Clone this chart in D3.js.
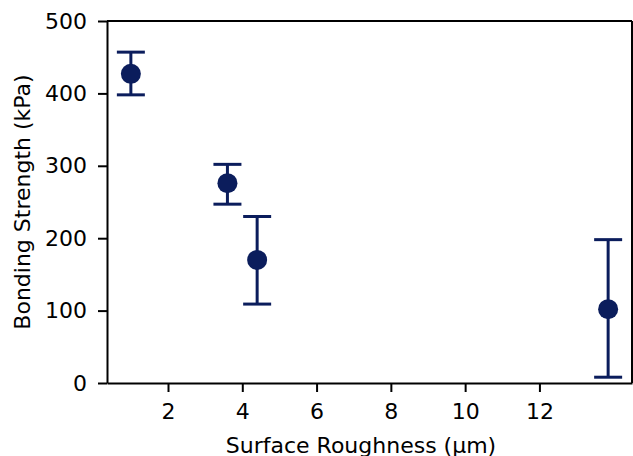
<!DOCTYPE html>
<html>
<head>
<meta charset="utf-8">
<script src="https://cdn.jsdelivr.net/npm/d3@7"></script>
<style>
  body { margin: 0; background: #fff; }
  text { font-family: "DejaVu Sans", sans-serif; }
</style>
</head>
<body>
<svg id="chart" width="633" height="456"></svg>
<script>
// data
const roughness = [1.0, 3.6, 4.4, 13.85];
const strength = [427, 276, 170, 102];
const errLow = [29, 29, 61, 94];
const errHigh = [30, 26, 60, 96];
const xTicks = [2, 4, 6, 8, 10, 12];
const yTicks = [0, 100, 200, 300, 400, 500];

const colour = '#0b1d5c';
const margin = { top: 21, right: 1, bottom: 73, left: 107 };
const width = 633, height = 456;
const fontSize = '22px';

const svg = d3.select('#chart');

// matplotlib style 5% padding on the x range
const pad = (d3.max(roughness) - d3.min(roughness)) * 0.05;
const x = d3.scaleLinear()
  .domain([d3.min(roughness) - pad, d3.max(roughness) + pad])
  .range([margin.left, width - margin.right]);
const y = d3.scaleLinear()
  .domain([0, 500])
  .range([height - margin.bottom, margin.top]);

// axes
const xAxis = svg.append('g')
  .attr('transform', `translate(0,${height - margin.bottom})`)
  .call(d3.axisBottom(x).tickValues(xTicks).tickSize(9).tickPadding(11).tickSizeOuter(0));
const yAxis = svg.append('g')
  .attr('transform', `translate(${margin.left},0)`)
  .call(d3.axisLeft(y).tickValues(yTicks).tickSize(9).tickPadding(11).tickSizeOuter(0));

[xAxis, yAxis].forEach(g => {
  g.selectAll('path.domain').attr('stroke', '#000').attr('stroke-width', 2);
  g.selectAll('.tick line').attr('stroke', '#000').attr('stroke-width', 2);
  g.selectAll('.tick text')
    .attr('fill', '#000')
    .style('font-size', fontSize);
});

// top and right spines
svg.append('line')
  .attr('x1', margin.left).attr('x2', width - margin.right)
  .attr('y1', margin.top).attr('y2', margin.top)
  .attr('stroke', '#000').attr('stroke-width', 2);
svg.append('line')
  .attr('x1', width - margin.right).attr('x2', width - margin.right)
  .attr('y1', margin.top).attr('y2', height - margin.bottom)
  .attr('stroke', '#000').attr('stroke-width', 2);

// axis labels (the x label is clipped at the bottom edge, as in the original)
svg.append('text')
  .attr('x', 361)
  .attr('y', 453)
  .attr('text-anchor', 'middle')
  .style('font-size', fontSize)
  .text('Surface Roughness (µm)');
svg.append('text')
  .attr('transform', `translate(29.5,${(margin.top + height - margin.bottom) / 2}) rotate(-90)`)
  .attr('text-anchor', 'middle')
  .style('font-size', fontSize)
  .text('Bonding Strength (kPa)');

// error bars
const pts = roughness.map((r, i) => ({ x: r, y: strength[i], lo: strength[i] - errLow[i], hi: strength[i] + errHigh[i] }));
const bars = svg.append('g').attr('stroke', colour).attr('stroke-width', 3);
bars.selectAll('line.err')
  .data(pts)
  .join('line')
  .classed('err', true)
  .attr('x1', d => x(d.x)).attr('x2', d => x(d.x))
  .attr('y1', d => y(d.lo)).attr('y2', d => y(d.hi));
const cap = 14;
['lo', 'hi'].forEach(k => {
  bars.selectAll('line.cap-' + k)
    .data(pts)
    .join('line')
    .classed('cap-' + k, true)
    .attr('x1', d => x(d.x) - cap).attr('x2', d => x(d.x) + cap)
    .attr('y1', d => y(d[k])).attr('y2', d => y(d[k]));
});

// markers
svg.append('g')
  .selectAll('circle')
  .data(pts)
  .join('circle')
  .attr('cx', d => x(d.x))
  .attr('cy', d => y(d.y))
  .attr('r', 10)
  .attr('fill', colour);
</script>
</body>
</html>
